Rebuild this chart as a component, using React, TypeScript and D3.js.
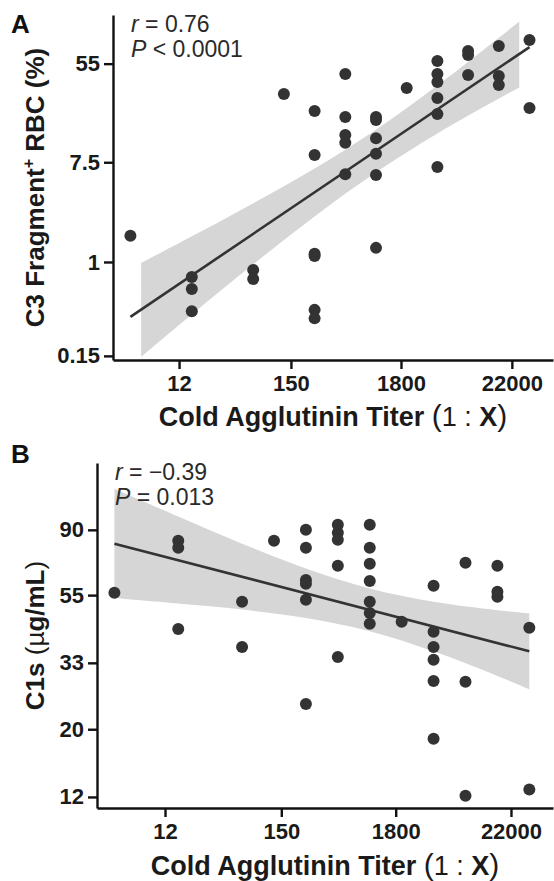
import { useEffect, useRef } from 'react';
import * as d3 from 'd3';

// titer columns (1:X)
const titers = [4, 16, 64, 128, 256, 512, 1024, 2048, 4096, 8192, 16384, 32768];

// panel A: C3 fragment+ RBC (%) per titer column
const c3Values = [
  [1.7],
  [0.74, 0.58, 0.37],
  [0.85, 0.71],
  [29.8],
  [21.1, 8.7, 1.18, 1.13, 0.38, 0.32],
  [44.6, 18.7, 13.0, 11.1, 5.9],
  [18.7, 17.6, 12.2, 8.9, 5.8, 1.33],
  [33.6],
  [58, 44.6, 37.9, 27.5, 19.9, 6.8],
  [71, 65.4, 43.7],
  [78.5, 42.8, 35.7],
  [88.6, 22.4],
];
const c3FitTiter = [4, 32768];
const c3FitValue = [0.33, 76.9];
const c3BandTiter = [5.1, 16, 64, 256, 1024, 4096, 16384, 26000];
const c3BandUpper = [0.98, 1.68, 3.28, 6.62, 14.5, 35.3, 92.6, 129];
const c3BandLower = [0.147, 0.346, 0.953, 2.51, 6.12, 13.4, 27.2, 34.0];
const c3Ticks = [0.15, 1, 7.5, 55];

// panel B: C1s (ug/mL) per titer column
const c1sValues = [
  [56.0],
  [82.9, 78.6, 42.6],
  [52.3, 37.2],
  [82.9],
  [90.0, 78.6, 61.7, 59.9, 53.1, 24.2],
  [93.5, 88.1, 83.5, 68.6, 34.5],
  [93.5, 78.6, 69.7, 61.2, 52.3, 48.1, 44.3],
  [45.0],
  [59.0, 41.7, 37.2, 33.8, 28.8, 18.6],
  [70.2, 28.6, 12.1],
  [68.6, 56.4, 54.3],
  [43.0, 12.7],
];
const c1sFitTiter = [4, 32768];
const c1sFitValue = [81.1, 36.0];
const c1sBandTiter = [4, 16, 64, 256, 1024, 4096, 16384, 32768];
const c1sBandUpper = [122.8, 99.5, 81.1, 67.2, 57.8, 52.3, 49.1, 47.9];
const c1sBandLower = [53.8, 51.6, 49.3, 46.3, 41.9, 36.0, 29.9, 27.0];
const c1sTicks = [12, 20, 33, 55, 90];

const xTicks = [12, 150, 1800, 22000];

const FONT = '"Liberation Sans", Arial, Helvetica, sans-serif';
const INK = '#333333';

const drawPanel = (svg, cfg) => {
  const { x0, x1, y0, y1, xDomain, yDomain } = cfg;
  const g = svg.append('g');

  const x = d3.scaleLog().domain(xDomain).range([x0, x1]);
  const y = d3.scaleLog().domain(yDomain).range([y1, y0]);

  // confidence band
  const band = cfg.bandTiter.map((t, i) => ({ t, lo: cfg.bandLower[i], hi: cfg.bandUpper[i] }));
  g.append('path')
    .datum(band)
    .attr('fill', '#d6d6d6')
    .attr('d', d3.area()
      .x(d => x(d.t))
      .y0(d => y(d.lo))
      .y1(d => y(d.hi))
      .curve(d3.curveCatmullRom));

  // regression line
  g.append('line')
    .attr('x1', x(cfg.fitTiter[0]))
    .attr('y1', y(cfg.fitValue[0]))
    .attr('x2', x(cfg.fitTiter[1]))
    .attr('y2', y(cfg.fitValue[1]))
    .attr('stroke', INK)
    .attr('stroke-width', 2.6);

  // points
  const pts = [];
  titers.forEach((t, i) => cfg.values[i].forEach(v => pts.push({ t, v })));
  g.selectAll('.dot')
    .data(pts)
    .enter()
    .append('circle')
    .attr('cx', d => x(d.t))
    .attr('cy', d => y(d.v))
    .attr('r', 6)
    .attr('fill', INK);

  // axes
  const xAxis = g.append('g')
    .attr('transform', `translate(0,${y1})`)
    .call(d3.axisBottom(x).tickValues(xTicks).tickFormat(d3.format('d')).tickSize(9).tickSizeOuter(0).tickPadding(6));
  const yAxis = g.append('g')
    .attr('transform', `translate(${x0},0)`)
    .call(d3.axisLeft(y).tickValues(cfg.yTicks).tickFormat(d => String(d)).tickSize(9).tickSizeOuter(0).tickPadding(4));

  [xAxis, yAxis].forEach(a => {
    a.selectAll('.domain, .tick line').attr('stroke', '#111').attr('stroke-width', 2.4);
    a.selectAll('text')
      .style('font-family', FONT)
      .style('font-size', '22px')
      .style('font-weight', 'bold')
      .attr('fill', '#1a1a1a');
  });

  // stats text
  const st = g.append('text')
    .attr('x', cfg.statX)
    .attr('y', cfg.statY)
    .style('font-family', FONT)
    .style('font-size', '23px')
    .attr('fill', '#2a2a2a');
  st.append('tspan').style('font-style', 'italic').text('r');
  st.append('tspan').text(cfg.rText);
  const st2 = g.append('text')
    .attr('x', cfg.statX)
    .attr('y', cfg.statY + 25)
    .style('font-family', FONT)
    .style('font-size', '23px')
    .attr('fill', '#2a2a2a');
  st2.append('tspan').style('font-style', 'italic').text('P');
  st2.append('tspan').text(cfg.pText);

  // panel letter
  g.append('text')
    .attr('x', 11)
    .attr('y', cfg.letterY)
    .style('font-family', FONT)
    .style('font-size', '26px')
    .style('font-weight', 'bold')
    .attr('fill', '#111')
    .text(cfg.letter);

  // x title
  const xt = g.append('text')
    .attr('x', (x0 + x1) / 2)
    .attr('y', cfg.xTitleY)
    .attr('text-anchor', 'middle')
    .style('font-family', FONT)
    .style('font-size', '27px')
    .style('font-weight', 'bold')
    .attr('fill', '#1a1a1a');
  xt.append('tspan').text('Cold Agglutinin Titer ');
  xt.append('tspan').style('font-weight', 'normal').style('font-size', '30px').text('(');
  xt.append('tspan').style('font-weight', 'normal').text('1 : ');
  xt.append('tspan').text('X');
  xt.append('tspan').style('font-weight', 'normal').style('font-size', '30px').text(')');

  // y title
  const yt = g.append('text')
    .attr('transform', `translate(${cfg.yTitleX},${(y0 + y1) / 2}) rotate(-90)`)
    .attr('text-anchor', 'middle')
    .style('font-family', FONT)
    .style('font-size', '26px')
    .style('font-weight', 'bold')
    .attr('fill', '#1a1a1a');
  cfg.yTitle(yt);
};

const App = () => {
  const svgRef = useRef(null);

  useEffect(() => {
    const svg = d3.select(svgRef.current);
    svg.selectAll('*').remove();

    drawPanel(svg, {
      x0: 113, x1: 553, y0: 15, y1: 360,
      xDomain: [2.7, 55700], yDomain: [0.138, 147],
      values: c3Values, fitTiter: c3FitTiter, fitValue: c3FitValue,
      bandTiter: c3BandTiter, bandUpper: c3BandUpper, bandLower: c3BandLower,
      yTicks: c3Ticks,
      statX: 131, statY: 32, rText: ' = 0.76', pText: ' < 0.0001',
      letter: 'A', letterY: 33, xTitleY: 426, yTitleX: 44,
      yTitle: t => {
        t.append('tspan').text('C3 Fragment');
        t.append('tspan').attr('dy', -10).style('font-size', '16px').text('+');
        t.append('tspan').attr('dy', 10).text(' RBC (%)');
      },
    });

    drawPanel(svg, {
      x0: 97, x1: 553, y0: 463, y1: 808,
      xDomain: [2.74, 54800], yDomain: [11.04, 149],
      values: c1sValues, fitTiter: c1sFitTiter, fitValue: c1sFitValue,
      bandTiter: c1sBandTiter, bandUpper: c1sBandUpper, bandLower: c1sBandLower,
      yTicks: c1sTicks,
      statX: 115, statY: 480, rText: ' = \u22120.39', pText: ' = 0.013',
      letter: 'B', letterY: 463, xTitleY: 875, yTitleX: 44,
      yTitle: t => {
        t.append('tspan').text('C1s ');
        t.append('tspan').style('font-weight', 'normal').text('(\u00b5');
        t.append('tspan').text('g/mL');
        t.append('tspan').style('font-weight', 'normal').text(')');
      },
    });
  }, []);

  return (
    <svg
      ref={svgRef}
      width={554}
      height={881}
      style={{ position: 'absolute', left: 0, top: 0, background: '#fff' }}
    />
  );
};

export default App;
